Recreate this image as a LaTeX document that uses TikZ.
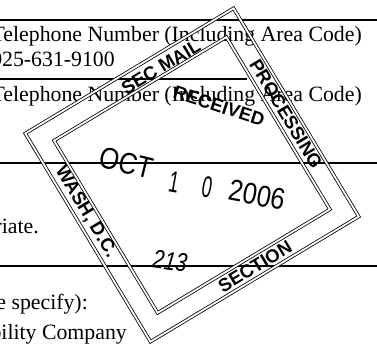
\documentclass[tikz,border=0pt]{standalone}
\usepackage{fontspec}
\setmainfont{Liberation Serif}
\newfontfamily\stampsans{Liberation Sans}
\usepackage{graphicx}
\begin{document}
\begin{tikzpicture}[x=1pt,y=-1pt,
  formtext/.style={inner sep=0pt, font=\fontsize{21.8}{25}\selectfont},
  rule/.style={line width=2.2pt},
  thinrule/.style={line width=1.3pt},
  stampframe/.style={draw, double, line width=0.8pt, double distance=1.8pt, shape=rectangle, rotate=31, inner sep=0pt, outer sep=0pt},
  stamplabel/.style={inner sep=0pt, font=\stampsans\bfseries\fontsize{18.5}{18.5}\selectfont},
  datelabel/.style={inner sep=0pt, font=\stampsans\fontsize{30}{30}\selectfont},
]
\useasboundingbox (0,0) rectangle (377,349);
\clip (0,0) rectangle (377,349);

% form rules
\coordinate (r1a) at (0,20);  \coordinate (r1b) at (377,20);
\coordinate (r2a) at (0,79);  \coordinate (r2b) at (247,79);
\coordinate (r3a) at (0,163); \coordinate (r3b) at (377,163);
\coordinate (r4a) at (0,266); \coordinate (r4b) at (377,266);
\draw[rule] (r1a) -- (r1b);
\draw[thinrule] (r2a) -- (r2b);
\draw[thinrule] (r3a) -- (r3b);
\draw[rule] (r4a) -- (r4b);

% form text
\node[formtext, anchor=base east] (tel1) at (362,41) {Telephone Number (Including Area Code)};
\node[formtext, anchor=base east] (phone) at (115,66) {925-631-9100};
\node[formtext, anchor=base east] (tel2) at (362,101) {Telephone Number (Including Area Code)};
\node[formtext, anchor=base east] (riate) at (39,233) {riate.};
\node[formtext, anchor=base east] (spec) at (88,309) {e specify):};
\node[formtext, anchor=base east] (llc) at (127,339) {bility Company};

% stamp
\coordinate (sc) at (192,175);
\node[stampframe, minimum size=243pt] (outer) at (sc) {};
\node[stampframe, minimum size=201pt] (inner) at (sc) {};

\node[stamplabel, rotate=31] (secmail) at (161,67) {SEC MAIL};
\node[stamplabel, rotate=-59] (proc) at (286,114) {PROCESSING};
\node[stamplabel, rotate=31] (section) at (255,266.6) {SECTION};
\node[stamplabel, rotate=-59] (wash) at (86,212) {WASH, D.C.};
\node[stamplabel, rotate=-18] (recv) at (219,106) {RECEIVED};

\node[datelabel, rotate=-14] (oct) at (126,163) {\scalebox{0.85}[1]{OCT}};
\node[datelabel, rotate=-10] (d1) at (174,182) {\scalebox{0.6}[1]{1}};
\node[datelabel, rotate=-10] (d0) at (207,187) {\scalebox{0.6}[1]{0}};
\node[datelabel, rotate=-11] (year) at (257,195) {\scalebox{0.85}[1]{2006}};
\node[inner sep=0pt, font=\stampsans\itshape\fontsize{26}{26}\selectfont, rotate=-8] (hand) at (170,261) {\scalebox{0.8}[1]{213}};
\end{tikzpicture}
\end{document}
